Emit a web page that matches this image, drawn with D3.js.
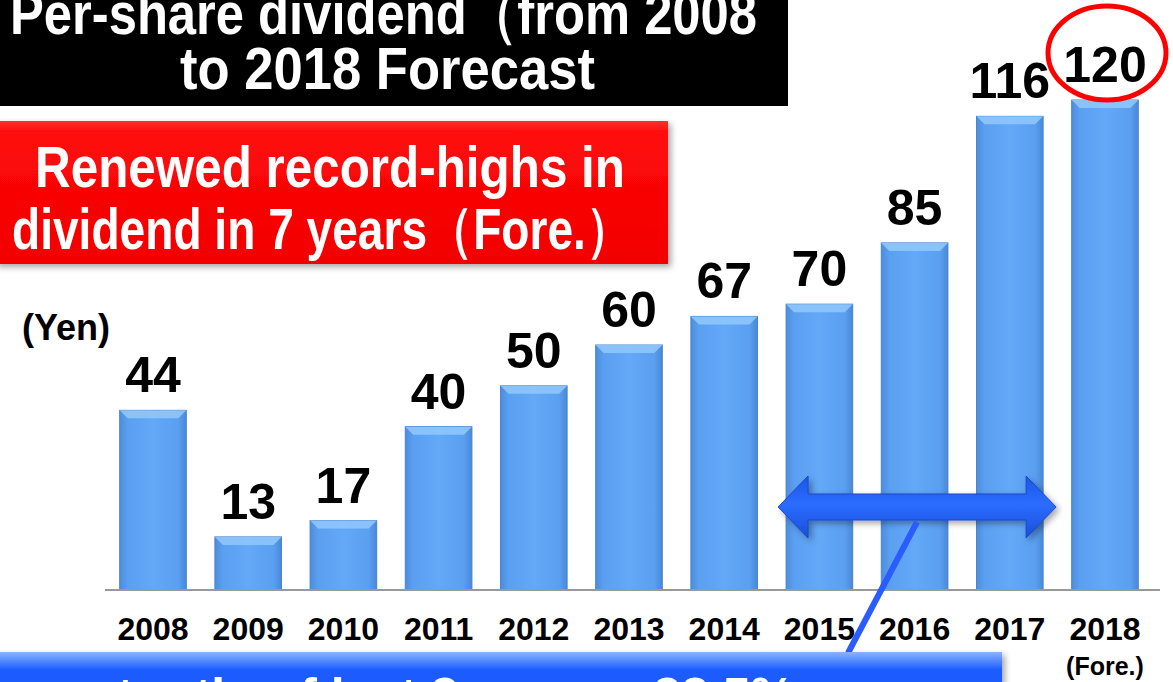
<!DOCTYPE html>
<html><head><meta charset="utf-8">
<script src="https://cdn.jsdelivr.net/npm/d3@7"></script>
<style>html,body{margin:0;padding:0;background:#fff;overflow:hidden}svg{display:block}</style>
</head><body>
<svg id="c" width="1173" height="682"></svg>
<script>
const years = ["2008","2009","2010","2011","2012","2013","2014","2015","2016","2017","2018"];
const dividends = [44, 13, 17, 40, 50, 60, 67, 70, 85, 116, 120];
const titleLines = ["Per-share dividend（from 2008", "to 2018 Forecast"];
const calloutLines = ["Renewed record-highs in", "dividend in 7 years（Fore.）"];
const unitLabel = "(Yen)";
const forecastNote = "(Fore.)";
const payoutText = "Average payout ratio of last 3 years：32.5%";

const W = 1173, H = 682;
const svg = d3.select("#c");
const defs = svg.append("defs");
const FONT = "'Liberation Sans Narrow','Liberation Sans',Arial,sans-serif";
const FONTB = "'Liberation Sans',Arial,sans-serif";

// gradients
const bg = defs.append("linearGradient").attr("id","barG").attr("x1","0").attr("x2","1").attr("y1","0").attr("y2","0");
bg.append("stop").attr("offset","0").attr("stop-color","#4d8ddd");
bg.append("stop").attr("offset","0.12").attr("stop-color","#5a9ff0");
bg.append("stop").attr("offset","0.5").attr("stop-color","#63a9f8");
bg.append("stop").attr("offset","0.88").attr("stop-color","#5a9ff0");
bg.append("stop").attr("offset","1").attr("stop-color","#4a88d8");
const rg = defs.append("linearGradient").attr("id","redG").attr("x1","0").attr("x2","0").attr("y1","0").attr("y2","1");
rg.append("stop").attr("offset","0").attr("stop-color","#ff3030");
rg.append("stop").attr("offset","0.08").attr("stop-color","#ff0a0a");
rg.append("stop").attr("offset","1").attr("stop-color","#f20000");
const blg = defs.append("linearGradient").attr("id","blueG").attr("x1","0").attr("x2","0").attr("y1","0").attr("y2","1");
blg.append("stop").attr("offset","0").attr("stop-color","#8ab4ff");
blg.append("stop").attr("offset","0.3").attr("stop-color","#1a5cff");
blg.append("stop").attr("offset","1").attr("stop-color","#1a58f8");
const ag = defs.append("linearGradient").attr("id","arrG").attr("x1","0").attr("x2","0").attr("y1","0").attr("y2","1");
ag.append("stop").attr("offset","0").attr("stop-color","#1c55e6");
ag.append("stop").attr("offset","0.45").attr("stop-color","#2b6cff");
ag.append("stop").attr("offset","1").attr("stop-color","#1a4fd8");
const sh = defs.append("filter").attr("id","shadow").attr("x","-10%").attr("y","-10%").attr("width","130%").attr("height","140%");
sh.append("feDropShadow").attr("dx",3).attr("dy",3).attr("stdDeviation",3).attr("flood-color","#000").attr("flood-opacity",0.35);

// scales
const x = d3.scaleBand().domain(years).range([105.4, 1152.6]).paddingInner(0.3).paddingOuter(0.15);
const y = d3.scaleLinear().domain([0, 120]).range([590, 100]);
const bw = x.bandwidth();

// bars
const bars = svg.append("g").selectAll("g").data(years).join("g");
bars.append("rect")
  .attr("x", d => x(d)).attr("y", (d,i) => y(dividends[i]))
  .attr("width", bw).attr("height", (d,i) => y(0) - y(dividends[i]))
  .attr("fill","url(#barG)").attr("stroke","#4a84cc").attr("stroke-width",1);
bars.append("path")
  .attr("d", (d,i) => {
    const x0 = x(d), yt = y(dividends[i]), b = 8;
    return `M${x0},${yt}L${x0+bw},${yt}L${x0+bw-b},${yt+b}L${x0+b},${yt+b}Z`;
  }).attr("fill","#8fc6fc").attr("opacity",0.9);

// axis baseline
svg.append("line").attr("x1",105).attr("x2",1160).attr("y1",y(0)).attr("y2",y(0))
  .attr("stroke","#999").attr("stroke-width",2);

// x axis labels
const xAxis = d3.axisBottom(x).tickSize(0).tickPadding(0);
const gx = svg.append("g").attr("transform",`translate(0,${y(0)})`).call(xAxis);
gx.select(".domain").remove();
gx.selectAll("text").attr("font-family",FONTB).attr("font-weight","bold").attr("font-size",32)
  .attr("fill","#000").attr("dy",null).attr("y",50);
svg.append("text").attr("x", x("2018")+bw/2).attr("y",675).attr("text-anchor","middle")
  .attr("font-family",FONT).attr("font-weight","bold").attr("font-size",25).attr("fill","#000").text(forecastNote);

// value labels
svg.append("g").selectAll("text").data(years).join("text")
  .attr("x", d => x(d)+bw/2).attr("y",(d,i) => y(dividends[i]) - 18)
  .attr("text-anchor","middle").attr("font-family",FONTB).attr("font-weight","bold")
  .attr("font-size",50).attr("fill","#000").text((d,i) => dividends[i]);

// circle around 2018 value
svg.append("ellipse").attr("cx", x("2018")+bw/2+2).attr("cy", 53).attr("rx",59).attr("ry",47)
  .attr("fill","none").attr("stroke","#f00").attr("stroke-width",5);

// unit label
svg.append("text").attr("x",22).attr("y",340).attr("font-family",FONT).attr("font-weight","bold")
  .attr("font-size",36).attr("fill","#000").text(unitLabel);

// title box
svg.append("rect").attr("x",0).attr("y",0).attr("width",788).attr("height",106).attr("fill","#000");
const tl = [{t:titleLines[0], x:10, y:34, w:747},{t:titleLines[1], x:180, y:89, w:415}];
svg.append("g").selectAll("text").data(tl).join("text")
  .attr("x",d=>d.x).attr("y",d=>d.y).attr("textLength",d=>d.w).attr("lengthAdjust","spacingAndGlyphs")
  .attr("font-family",FONT).attr("font-weight","bold").attr("font-size",60).attr("fill","#fff").text(d=>d.t);

// red callout box
svg.append("rect").attr("x",-5).attr("y",121).attr("width",673).attr("height",143)
  .attr("fill","url(#redG)").attr("filter","url(#shadow)");
const cl = [{t:calloutLines[0], x:35, y:187, w:590},{t:calloutLines[1], x:12, y:249, w:620}];
svg.append("g").selectAll("text").data(cl).join("text")
  .attr("x",d=>d.x).attr("y",d=>d.y).attr("textLength",d=>d.w).attr("lengthAdjust","spacingAndGlyphs")
  .attr("font-family",FONT).attr("font-weight","bold").attr("font-size",58).attr("fill","#fff").text(d=>d.t);

// double arrow over 2015-2017
const ax0 = x("2015") - 8, ax1 = x("2017") + bw + 13, ay = 507;
const hl = 30, sh2 = 13, hh = 31;
svg.append("path")
  .attr("d", `M${ax0},${ay}L${ax0+hl},${ay-hh}L${ax0+hl},${ay-sh2}L${ax1-hl},${ay-sh2}L${ax1-hl},${ay-hh}L${ax1},${ay}L${ax1-hl},${ay+hh}L${ax1-hl},${ay+sh2}L${ax0+hl},${ay+sh2}L${ax0+hl},${ay+hh}Z`)
  .attr("fill","url(#arrG)").attr("stroke","#1a48c8").attr("stroke-width",1).attr("filter","url(#shadow)");

// connector line
svg.append("line").attr("x1",917).attr("y1",522).attr("x2",848).attr("y2",653)
  .attr("stroke","#2a5cff").attr("stroke-width",6);

// bottom blue box
svg.append("rect").attr("x",-5).attr("y",652).attr("width",1007).attr("height",60)
  .attr("fill","url(#blueG)").attr("filter","url(#shadow)");
svg.append("text").attr("x",795).attr("y",713).attr("text-anchor","end")
  .attr("font-family",FONTB).attr("font-weight","bold").attr("font-size",50).attr("fill","#fff").text(payoutText);
</script>
</body></html>
